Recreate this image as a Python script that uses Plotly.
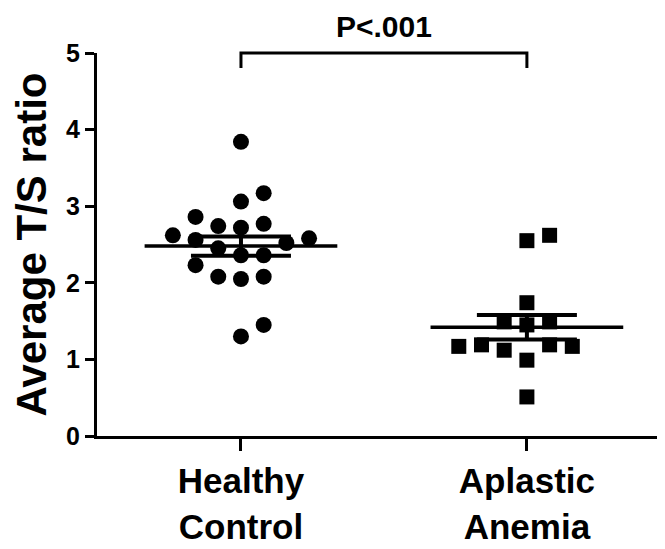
import plotly.graph_objects as go

# ---- data ----
categories = ["Healthy<br>Control", "Aplastic<br>Anemia"]
healthy_values = [3.84, 3.17, 3.06, 2.86, 2.74, 2.72, 2.77, 2.62, 2.56, 2.58,
                  2.52, 2.45, 2.36, 2.36, 2.23, 2.08, 2.05, 2.08, 1.45, 1.30]
healthy_slots = [0, 1, 0, -2, -1, 0, 1, -3, -2, 3,
                 2, -1, 0, 1, -2, -1, 0, 1, 1, 0]
aplastic_values = [2.55, 2.62, 1.74, 1.49, 1.45, 1.49, 1.17, 1.19, 1.12, 1.19,
                   1.17, 0.99, 0.51]
aplastic_slots = [0, 1, 0, -1, 0, 1, -3, -2, -1, 1, 2, 0, 0]
group_means = [2.48, 1.42]
group_sems = [0.126, 0.16]
y_ticks = [0, 1, 2, 3, 4, 5]
p_label = "P<.001"
y_title = "Average T/S ratio"

# ---- styling ----
FONT = "Liberation Sans, Arial, sans-serif"
SLOT = 0.0794        # horizontal spacing between swarm columns (data units)
MEAN_HALF = 0.337    # half length of mean line (data units)
cat_pos = [1, 2]

fig = go.Figure()

fig.add_trace(go.Scatter(
    x=[cat_pos[0] + s * SLOT for s in healthy_slots], y=healthy_values,
    mode="markers", marker=dict(symbol="circle", size=16, color="black"),
    showlegend=False, hoverinfo="y"))
fig.add_trace(go.Scatter(
    x=[cat_pos[1] + s * SLOT for s in aplastic_slots], y=aplastic_values,
    mode="markers", marker=dict(symbol="square", size=15, color="black"),
    showlegend=False, hoverinfo="y"))

for cx, m in zip(cat_pos, group_means):
    fig.add_trace(go.Scatter(
        x=[cx - MEAN_HALF, cx + MEAN_HALF], y=[m, m], mode="lines",
        line=dict(color="black", width=3.5), showlegend=False, hoverinfo="skip"))

fig.add_trace(go.Scatter(
    x=cat_pos, y=group_means, mode="markers",
    marker=dict(size=1, color="rgba(0,0,0,0)"),
    error_y=dict(type="data", array=group_sems, visible=True,
                 color="black", thickness=4, width=50),
    showlegend=False, hoverinfo="skip"))

# significance bracket
fig.add_shape(type="path", xref="x", yref="paper",
              path=f"M {cat_pos[0]},0.961 L {cat_pos[0]},1.0 L {cat_pos[1]},1.0 L {cat_pos[1]},0.961",
              line=dict(color="black", width=3))
fig.add_annotation(x=(cat_pos[0] + cat_pos[1]) / 2, y=1.068, xref="x", yref="paper",
                   text=p_label, showarrow=False, yanchor="middle",
                   font=dict(family=FONT, size=30, color="black", weight="bold"))

# page body has an 8px margin, so the figure is sized/offset to compensate
fig.update_layout(
    width=657, height=541,
    margin=dict(l=89, r=0, t=45, b=113),
    plot_bgcolor="white", paper_bgcolor="white",
    font=dict(family=FONT, color="black", weight="bold"),
    xaxis=dict(
        range=[0.4965, 2.483], tickvals=cat_pos, ticktext=categories,
        showline=True, linecolor="black", linewidth=3,
        ticks="outside", ticklen=12, tickwidth=3, tickcolor="black",
        showgrid=False, zeroline=False, automargin=False,
        tickfont=dict(family=FONT, size=35, color="black", weight="bold")),
    yaxis=dict(
        range=[0, 5], tickvals=y_ticks,
        showline=True, linecolor="black", linewidth=3,
        ticks="outside", ticklen=9, tickwidth=3, tickcolor="black",
        showgrid=False, zeroline=False, automargin=False,
        tickfont=dict(family=FONT, size=25, color="black", weight="bold"),
        title=dict(text=y_title, standoff=12,
                   font=dict(family=FONT, size=42, color="black", weight="bold"))),
)

fig.write_html("out.html")
